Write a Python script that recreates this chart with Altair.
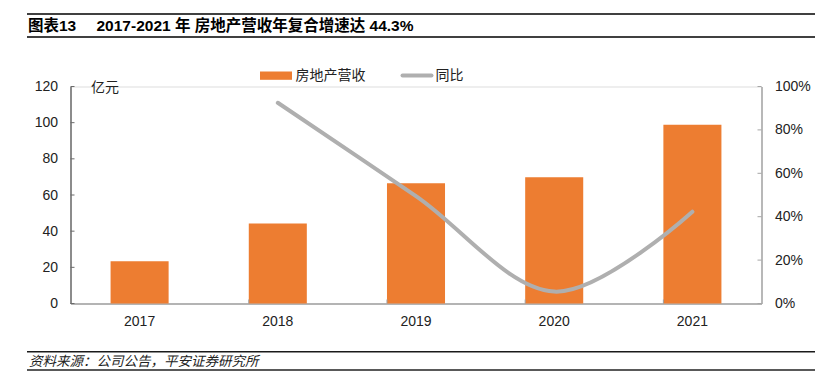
import altair as alt
import pandas as pd

years = ["2017", "2018", "2019", "2020", "2021"]
revenue = [23.4, 44.3, 66.5, 69.8, 98.8]          # 房地产营收（亿元）
yoy_years = ["2018", "2019", "2020", "2021"]
yoy = [0.925, 0.495, 0.055, 0.423]                # 同比
left_ticks = [0, 20, 40, 60, 80, 100, 120]
right_ticks = [0, 0.2, 0.4, 0.6, 0.8, 1.0]
boundary_years = ["2018", "2019", "2020", "2021"]

title_a = "图表13"
title_b = "2017-2021 年 房地产营收年复合增速达 44.3%"
source = "资料来源：公司公告，平安证券研究所"
unit = "亿元"
leg_bar = "房地产营收"
leg_line = "同比"

W, H = 691, 217
PL, PT = 62.5, 78.5
FONT = "Liberation Sans, Arial, Noto Sans CJK SC"
BAR = "#ED7D31"
LINE = "#AFAFAF"

bar_df = pd.DataFrame({"year": years, "rev": revenue})
line_df = pd.DataFrame({"year": yoy_years, "yoy": yoy})
lt_df = pd.DataFrame({"v": left_ticks})
rt_df = pd.DataFrame({"v": right_ticks})
bt_df = pd.DataFrame({"year": boundary_years})
one = pd.DataFrame({"a": [0]})

xscale = alt.Scale(domain=years, paddingInner=0.58, paddingOuter=0.29)
xaxis = alt.Axis(title=None, labelAngle=0, ticks=False, tickSize=0, labelPadding=11,
                 labelFontSize=14, labelColor="#222222", labelFont=FONT,
                 domainColor="#A0A0A0", domainWidth=1.5)

bars = alt.Chart(bar_df).mark_bar(color=BAR).encode(
    x=alt.X("year:O", scale=xscale, axis=xaxis),
    y=alt.Y("rev:Q", scale=alt.Scale(domain=[0, 120], nice=False),
            axis=alt.Axis(title=None, orient="left", values=left_ticks, ticks=False, tickSize=0,
                          labelPadding=13, labelFontSize=14, labelColor="#222222", labelFont=FONT,
                          domainColor="#6B6B6B", domainWidth=1.5, grid=False)),
)

line = alt.Chart(line_df).mark_line(color=LINE, strokeWidth=4, interpolate="cardinal",
                                    strokeCap="round").encode(
    x=alt.X("year:O", scale=xscale, axis=xaxis, bandPosition=0.5),
    y=alt.Y("yoy:Q", scale=alt.Scale(domain=[0, 1], nice=False),
            axis=alt.Axis(title=None, orient="right", values=right_ticks, format=".0%", ticks=False,
                          tickSize=0, labelPadding=13, labelFontSize=14, labelColor="#222222",
                          labelFont=FONT, domainColor="#A6A6A6", domainWidth=1.5, grid=False)),
)

lticks = alt.Chart(lt_df).mark_rule(color="#6B6B6B", strokeWidth=1).encode(
    y=alt.Y("v:Q", scale=alt.Scale(domain=[0, 120], nice=False), axis=None),
    x=alt.value(0), x2=alt.value(4),
)
rticks = alt.Chart(rt_df).mark_rule(color="#A6A6A6", strokeWidth=1).encode(
    y=alt.Y("v:Q", scale=alt.Scale(domain=[0, 1], nice=False), axis=None),
    x=alt.value(W - 4), x2=alt.value(W),
)
bticks = alt.Chart(bt_df).mark_rule(color="#A0A0A0", strokeWidth=1).encode(
    x=alt.X("year:O", scale=xscale, axis=xaxis, bandPosition=0),
    y=alt.value(H - 4), y2=alt.value(H),
)

def hrule(y, color, width):
    return alt.Chart(one).mark_rule(color=color, strokeWidth=width).encode(
        x=alt.value(-43.5), x2=alt.value(745), y=alt.value(y))

def label(text, x, y, size, weight="normal", style="normal", color="#000000"):
    return alt.Chart(one).mark_text(text=text, align="left", baseline="middle", fontSize=size,
                                    fontWeight=weight, fontStyle=style, font=FONT,
                                    color=color).encode(x=alt.value(x), y=alt.value(y))

decor = [
    hrule(-72.5, "#404040", 2),
    hrule(-49.5, "#404040", 2),
    label(title_a, -42.5, -60.5, 15.5, weight="bold"),
    label(title_b, 26, -60.5, 15.5, weight="bold"),
    hrule(265.2, "#1A1A1A", 1.5),
    hrule(283.5, "#595959", 2),
    label(source, -41.5, 275, 13.5, style="italic", color="#222222"),
    alt.Chart(one).mark_rect(color=BAR).encode(
        x=alt.value(189.5), x2=alt.value(221.5), y=alt.value(-15), y2=alt.value(-6.7)),
    label(leg_bar, 225, -11, 14, color="#222222"),
    alt.Chart(one).mark_rule(color=LINE, strokeWidth=4, strokeCap="round").encode(
        x=alt.value(332), x2=alt.value(361), y=alt.value(-11)),
    label(leg_line, 365, -11, 14, color="#222222"),
    label(unit, 20.5, 1.5, 14, color="#222222"),
]

chart = alt.layer(bars, line, lticks, rticks, bticks, *decor).resolve_scale(
    y="independent"
).properties(
    width=W, height=H,
    autosize=alt.AutoSizeParams(type="none"),
    padding={"left": PL, "top": PT, "right": 807 - PL - W, "bottom": 75},
).configure_view(stroke=None).configure(font=FONT, background="white")

chart.save("out.html", embed_options={"renderer": "svg", "actions": False})
